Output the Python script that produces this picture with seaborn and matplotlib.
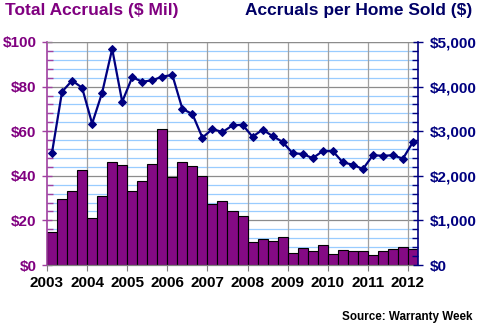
import matplotlib
matplotlib.use("Agg")
import matplotlib.pyplot as plt
import matplotlib.transforms as mtransforms
from matplotlib.ticker import MultipleLocator, FixedLocator
import numpy as np
import pandas as pd
import seaborn as sns

# Quarterly series, 2003 Q1 through 2012 Q1
quarters = [f"{y} Q{q}" for y in range(2003, 2013) for q in range(1, 5)][:37]

total_accruals = [
    14.7, 29.5, 33.4, 42.5,   # 2003
    21.1, 30.9, 46.0, 44.8,   # 2004
    33.0, 37.6, 45.5, 61.1,   # 2005
    39.6, 46.0, 44.5, 40.0,   # 2006
    27.4, 28.6, 24.1, 22.0,   # 2007
    10.3, 11.5, 10.8, 12.4,   # 2008
    5.4, 7.6, 6.3, 9.0,       # 2009
    5.1, 6.9, 6.3, 6.3,       # 2010
    4.6, 6.3, 7.2, 8.1,       # 2011
    7.0,                      # 2012
]

accruals_per_home = [
    2520, 3885, 4135, 3975,
    3170, 3865, 4845, 3660,
    4210, 4110, 4140, 4225,
    4260, 3500, 3385, 2855,
    3050, 2980, 3130, 3145,
    2875, 3035, 2890, 2760,
    2505, 2490, 2395, 2555,
    2555, 2300, 2250, 2150,
    2460, 2450, 2460, 2385,
    2760,
]

year_labels = [str(y) for y in range(2003, 2013)]
left_tick_values = [0, 20, 40, 60, 80, 100]
left_tick_labels = ["$0", "$20", "$40", "$60", "$80", "$100"]
right_tick_values = [0, 1000, 2000, 3000, 4000, 5000]
right_tick_labels = ["$0", "$1,000", "$2,000", "$3,000", "$4,000", "$5,000"]

PURPLE = "#800080"
NAVY = "#000080"

df = pd.DataFrame({
    "quarter": quarters,
    "idx": np.arange(len(quarters)),
    "total": total_accruals,
    "per_home": accruals_per_home,
})

sns.set_theme(style="white")
plt.rcParams["font.family"] = ["Liberation Sans", "DejaVu Sans"]
plt.rcParams["font.weight"] = "bold"

fig = plt.figure(figsize=(4.8, 3.26), dpi=100)
ax = fig.add_axes([47 / 480, 1 - 265 / 326, (418 - 47) / 480, (265 - 42) / 326])
ax.set_facecolor("white")

# Grid: light blue minor lines, grey major lines, grey year lines
for v in np.arange(4, 100, 4):
    if v % 20:
        ax.axhline(v, color="#99ccff", lw=0.9, zorder=0)
for v in left_tick_values[1:]:
    ax.axhline(v, color="#8c8c8c", lw=0.9, zorder=0)
year_pos = [-0.5 + 4 * k for k in range(len(year_labels))]
for x in year_pos[1:]:
    ax.axvline(x, color="#a0a0a0", lw=0.9, zorder=0)

sns.barplot(data=df, x="idx", y="total", color="#840a84", width=1.0,
            edgecolor="black", linewidth=0.8, saturation=1, ax=ax, zorder=2)

ax.set_xlim(-0.5, len(quarters) - 0.5)
ax.set_ylim(0, 100)
ax.set_xlabel("")
ax.set_ylabel("")

ax.xaxis.set_major_locator(FixedLocator(year_pos))
ax.set_xticklabels(year_labels, fontsize=11, fontweight="bold", color="black")
offset = mtransforms.ScaledTranslation(4 / 100, 0, fig.dpi_scale_trans)
for lbl in ax.get_xticklabels():
    lbl.set_transform(lbl.get_transform() + offset)
ax.tick_params(axis="x", length=4, width=0.8, color="#808080", pad=4, bottom=True)

ax.yaxis.set_major_locator(FixedLocator(left_tick_values))
ax.set_yticklabels(left_tick_labels, fontsize=11, fontweight="bold", color=PURPLE)
ax.yaxis.set_minor_locator(MultipleLocator(4))
ax.tick_params(axis="y", which="major", direction="inout", length=7, width=1,
               color="#a040a0", pad=4, left=True)
ax.tick_params(axis="y", which="minor", direction="in", length=4, width=1,
               color="#a040a0", left=True)

for side in ["top", "right"]:
    ax.spines[side].set_visible(False)
ax.spines["left"].set_color("#a040a0")
ax.spines["left"].set_linewidth(1.2)
ax.spines["bottom"].set_color("#808080")
ax.spines["bottom"].set_linewidth(0.9)

ax2 = ax.twinx()
sns.lineplot(data=df, x="idx", y="per_home", color=NAVY, lw=1.6,
             marker="D", markersize=4.5, markeredgecolor=NAVY, ax=ax2, zorder=5)
ax2.set_ylim(0, 5000)
ax2.set_xlim(-0.5, len(quarters) - 0.5)
ax2.set_xlabel("")
ax2.set_ylabel("")
ax2.yaxis.set_major_locator(FixedLocator(right_tick_values))
ax2.set_yticklabels(right_tick_labels, fontsize=11, fontweight="bold", color=NAVY)
ax2.yaxis.set_minor_locator(MultipleLocator(200))
ax2.tick_params(axis="y", which="major", direction="inout", length=7, width=1,
                color=NAVY, pad=5, right=True)
ax2.tick_params(axis="y", which="minor", direction="in", length=4, width=1,
                color=NAVY, right=True)
for side in ["top", "left", "bottom"]:
    ax2.spines[side].set_visible(False)
ax2.spines["right"].set_color(NAVY)
ax2.spines["right"].set_linewidth(1.2)
ax2.axhline(5000, color="#8c8c8c", lw=0.9, zorder=0)

fig.text(5 / 480, 1 - 3 / 326, "Total Accruals ($ Mil)", ha="left", va="top",
         fontsize=12.5, fontweight="bold", color=PURPLE)
fig.text(245 / 480, 1 - 3 / 326, "Accruals per Home Sold ($)", ha="left", va="top",
         fontsize=12.5, fontweight="bold", color="#000066")
fig.text(472 / 480, 1 - 317 / 326, "Source: Warranty Week", ha="right", va="center",
         fontsize=8.4, fontweight="bold", color="black")

fig.savefig("out.png", dpi=100, facecolor="white")
